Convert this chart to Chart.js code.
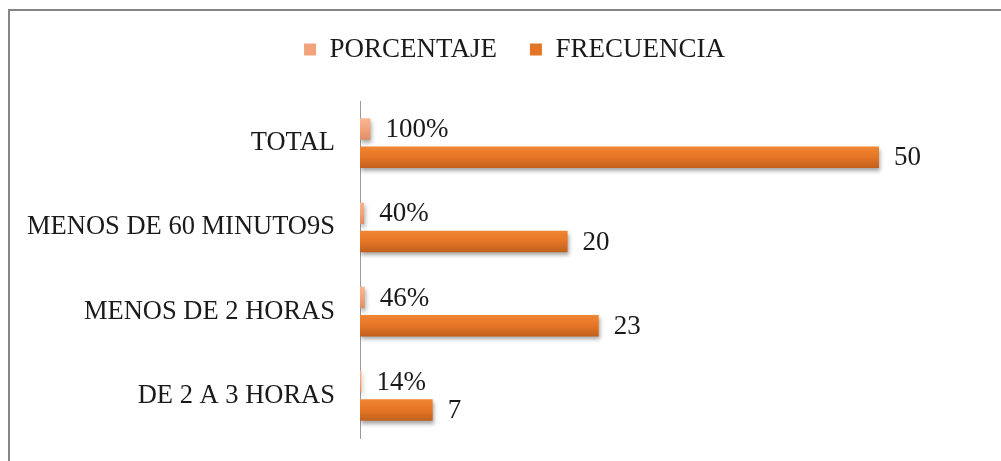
<!DOCTYPE html>
<html lang="es">
<head>
    <meta charset="UTF-8">
    <title>Tiempo</title>
    <script src="https://cdnjs.cloudflare.com/ajax/libs/Chart.js/4.4.1/chart.umd.min.js"></script>
    <style>
        html, body {
            margin: 0;
            padding: 0;
            background: #ffffff;
        }
        .wrap {
            position: relative;
            width: 1001px;
            height: 461px;
        }
        .frame {
            position: absolute;
            left: 8px;
            top: 9px;
            right: 0;
            bottom: 0;
            border-top: 2px solid #858585;
            border-left: 2px solid #858585;
            pointer-events: none;
        }
    </style>
</head>
<body>
    <div class="wrap">
        <canvas id="chart"></canvas>
        <div class="frame"></div>
    </div>

    <script>
        const categories = ['TOTAL', 'MENOS DE 60 MINUTO9S', 'MENOS DE 2 HORAS', 'DE 2 A 3 HORAS'];
        const porcentaje = [1.00, 0.40, 0.46, 0.14];
        const frecuencia = [50, 20, 23, 7];

        const FONT = '"Liberation Serif", "Times New Roman", serif';
        const TEXT = '#1a1a1a';

        // gradient stops for each series (top -> bottom of the bar)
        const pctStops = ['#f9b692', '#f2a37a', '#dd8e66'];
        const freqStops = ['#f08633', '#e57526', '#c0611d'];

        const fmtPct = v => Math.round(v * 100) + '%';
        const fmtNum = v => String(v);

        // legend: fixed height so the plot starts lower, and centred a bit to the right
        const legendSpace = {
            id: 'legendSpace',
            afterInit(chart) {
                const fit = chart.legend.fit;
                chart.legend.fit = function () {
                    fit.call(this);
                    this.height = 98;
                };
            },
            afterLayout(chart) {
                chart.legend.left = 67;
            }
        };

        // shaded bars, drop shadow and value labels
        const barDeco = {
            id: 'barDeco',
            beforeDatasetsDraw(chart) {
                const ctx = chart.ctx;
                chart.data.datasets.forEach((ds, i) => {
                    chart.getDatasetMeta(i).data.forEach(bar => {
                        const top = bar.y - bar.height / 2;
                        const g = ctx.createLinearGradient(0, top, 0, top + bar.height);
                        ds.stops.forEach((c, k) => g.addColorStop(k / (ds.stops.length - 1), c));
                        bar.options.backgroundColor = g;
                    });
                });
                ctx.save();
                ctx.shadowColor = 'rgba(0, 0, 0, 0.35)';
                ctx.shadowBlur = 4;
                ctx.shadowOffsetX = 1;
                ctx.shadowOffsetY = 3;
            },
            afterDatasetsDraw(chart) {
                const ctx = chart.ctx;
                ctx.restore();
                ctx.save();
                ctx.font = '27px ' + FONT;
                ctx.fillStyle = TEXT;
                ctx.textAlign = 'left';
                ctx.textBaseline = 'middle';
                chart.data.datasets.forEach((ds, i) => {
                    chart.getDatasetMeta(i).data.forEach((bar, j) => {
                        ctx.fillText(ds.fmt(ds.data[j]), bar.x + 15, bar.y + 1);
                    });
                });
                ctx.restore();
            }
        };

        new Chart(document.getElementById('chart'), {
            type: 'bar',
            data: {
                labels: categories,
                datasets: [{
                    label: 'PORCENTAJE',
                    data: porcentaje,
                    backgroundColor: () => '#f0a47c',
                    stops: pctStops,
                    fmt: fmtPct,
                    categoryPercentage: 0.67,
                    barPercentage: 0.76
                }, {
                    label: 'FRECUENCIA',
                    data: frecuencia,
                    backgroundColor: () => '#e2762a',
                    stops: freqStops,
                    fmt: fmtNum,
                    categoryPercentage: 0.67,
                    barPercentage: 0.76
                }]
            },
            options: {
                indexAxis: 'y',
                responsive: true,
                maintainAspectRatio: false,
                animation: false,
                layout: {
                    padding: { top: 3, bottom: 23, left: 0, right: 39 }
                },
                plugins: {
                    legend: {
                        position: 'top',
                        labels: {
                            boxWidth: 12,
                            boxHeight: 12,
                            padding: 33,
                            color: TEXT,
                            font: { family: FONT, size: 27 },
                            generateLabels(chart) {
                                return chart.data.datasets.map((ds, i) => ({
                                    text: ds.label,
                                    fillStyle: ds.stops[1],
                                    strokeStyle: ds.stops[1],
                                    lineWidth: 0,
                                    fontColor: TEXT,
                                    datasetIndex: i
                                }));
                            }
                        }
                    },
                    tooltip: { enabled: false }
                },
                scales: {
                    x: {
                        display: false,
                        min: 0,
                        max: 58
                    },
                    y: {
                        grid: { display: false, drawTicks: false },
                        border: { display: true, color: '#9a9a9a', width: 1 },
                        ticks: {
                            color: TEXT,
                            padding: 25,
                            font: { family: FONT, size: 26.5 }
                        },
                        afterFit(scale) {
                            scale.width = 360;
                            scale.paddingTop = 0;
                            scale.paddingBottom = 0;
                        }
                    }
                }
            },
            plugins: [legendSpace, barDeco]
        });
    </script>
</body>
</html>
